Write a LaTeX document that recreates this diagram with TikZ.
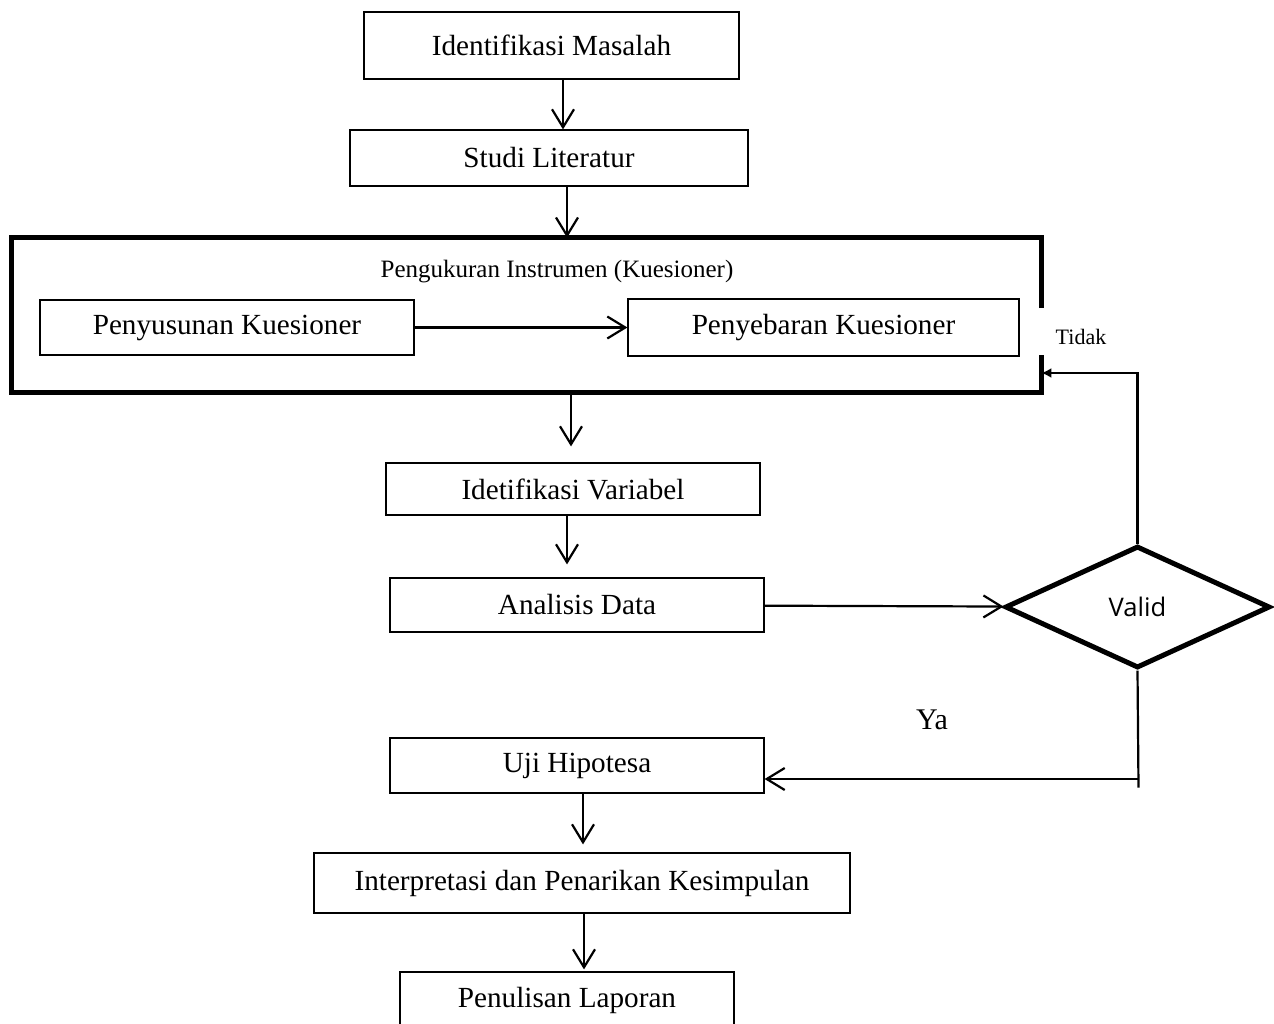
\documentclass[tikz,border=0pt]{standalone}
\usepackage{fontspec}
\setmainfont{Liberation Serif}
\newfontfamily\validfont{Open Sans}
\usetikzlibrary{positioning}
\usetikzlibrary{arrows.meta}
\usetikzlibrary{shapes.geometric}
\tikzset {
  % kotak proses
  proses/.style = {draw, line width=0.6pt, inner sep=0pt, font=\fontsize{14.6}{17}\selectfont},
  % belah ketupat keputusan
  keputusan/.style = {draw, diamond, line width=2.5pt, inner sep=0pt,
    minimum width=132.5pt, minimum height=61pt, font=\validfont\fontsize{12.8}{15}\selectfont},
  % bingkai tebal pengukuran
  bingkai/.style = {line width=2.5pt},
  % panah alur
  panah/.style = {-{Straight Barb[length=9pt,width=11pt]}, line width=1.1pt},
  balik/.style = {-{Latex[length=5pt,width=5pt]}, line width=1.1pt},
  ket/.style = {inner sep=0pt},
}
\begin{document}
\begin{tikzpicture}[x=0.5pt, y=-0.5pt]
        \useasboundingbox (0,0) rectangle (1274,1023);
        \clip (0,0) rectangle (1274,1023);

        \node[proses, minimum width=187.5pt, minimum height=33.5pt] (masalah) at (551.5,45.5) {Identifikasi Masalah};
        \node[proses, minimum width=199pt, minimum height=28pt] (studi) at (549,158) {Studi Literatur};
        \node[ket, minimum width=514.5pt, minimum height=77pt] (ukur) at (526.5,315) {};
        \node[ket, font=\fontsize{12.5}{15}\selectfont] (judul) at (557,272) {Pengukuran Instrumen (Kuesioner)};
        \node[proses, minimum width=187pt, minimum height=27.5pt] (susun) at (227,327.5) {Penyusunan Kuesioner};
        \node[proses, minimum width=195.5pt, minimum height=28.5pt] (sebar) at (823.5,327.5) {Penyebaran Kuesioner};
        \node[ket, font=\fontsize{11}{13}\selectfont] (tidak) at (1081,337) {Tidak};
        \node[proses, minimum width=187pt, minimum height=26pt] (variabel) at (573,489) {Idetifikasi Variabel};
        \node[proses, minimum width=187pt, minimum height=27pt] (analisis) at (577,605) {Analisis Data};
        \node[keputusan] (valid) at (1137.5,607) {Valid};
        \node[ket, font=\fontsize{15}{18}\selectfont] (ya) at (932,720) {Ya};
        \node[proses, minimum width=187pt, minimum height=27.5pt] (uji) at (577,765.5) {Uji Hipotesa};
        \node[proses, minimum width=268pt, minimum height=30pt] (simpul) at (582,883) {Interpretasi dan Penarikan Kesimpulan};
        \node[proses, minimum width=167pt, minimum height=28pt] (laporan) at (567,1000) {Penulisan Laporan};

        \draw[bingkai] ([yshift=3.5pt]ukur.east) |- (ukur.north west) |- (ukur.south east) -- ([yshift=-20pt]ukur.east);

        \draw[panah] ([xshift=5.75pt]masalah.south) -- ([xshift=5.75pt]masalah.south |- studi.north);
        \draw[panah] ([xshift=9pt]studi.south) -- ([xshift=9pt]studi.south |- ukur.north);
        \draw[panah] (susun) -- (sebar);
        \draw[panah, shorten >=8pt] ([xshift=-1pt]variabel.north |- ukur.south) -- ([xshift=-1pt]variabel.north);
        \draw[panah, shorten >=6.5pt] ([xshift=-3pt]variabel.south) -- ([xshift=-3pt]variabel.south |- analisis.north);
        \draw[panah] (analisis) -- (valid);
        \draw[balik] (valid.north) |- ([yshift=-29pt]ukur.east);
        \draw[line width=1.1pt] (valid.south) -- ++(1,117);
        \draw[panah] ([yshift=-6.75pt]uji.east -| valid.south) ++(1,0) -- ([yshift=-6.75pt]uji.east);
        \draw[panah, shorten >=4pt] ([xshift=3pt]uji.south) -- ([xshift=3pt]uji.south |- simpul.north);
        \draw[panah, shorten >=1pt] ([xshift=1pt]simpul.south) -- ([xshift=1pt]simpul.south |- laporan.north);
      \end{tikzpicture}
\end{document}
